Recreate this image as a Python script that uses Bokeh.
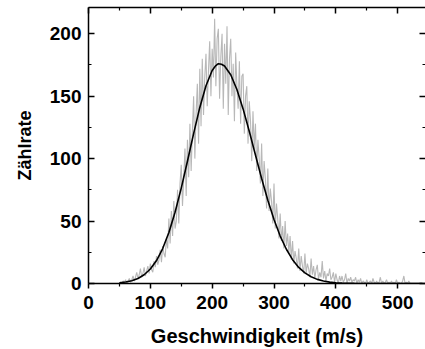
from bokeh.plotting import figure
from bokeh.models import Range1d, LinearAxis, FixedTicker
from bokeh.embed import file_html
from bokeh.resources import INLINE

# measured count rate (grey, 2 m/s bins from 50 to 520 m/s)
speed_data = list(range(50, 521, 2))
counts = [
    0, 1, 0, 2, 1, 3, 0, 2, 4, 1,
    3, 6, 2, 5, 9, 4, 7, 12, 5, 8,
    13, 6, 10, 14, 8, 16, 11, 9, 18, 13,
    22, 15, 19, 27, 17, 30, 24, 21, 36, 28,
    52, 32, 58, 38, 66, 44, 50, 75, 48, 80,
    95, 62, 84, 108, 70, 115, 85, 128, 90, 122,
    150, 100, 136, 160, 112, 172, 126, 180, 135, 165,
    184, 142, 170, 194, 150, 188, 165, 212, 158, 196,
    204, 148, 182, 200, 140, 192, 160, 206, 135, 180,
    196, 150, 176, 130, 185, 158, 140, 178, 128, 166,
    168, 120, 150, 158, 112, 146, 130, 98, 138, 108,
    128, 90, 115, 100, 80, 112, 70, 98, 84, 60,
    92, 58, 76, 66, 48, 80, 44, 64, 52, 36,
    56, 34, 46, 28, 50, 30, 40, 24, 38, 19,
    34, 16, 26, 20, 12, 28, 10, 22, 14, 8,
    24, 8, 16, 12, 5, 20, 7, 14, 4, 11,
    15, 3, 9, 5, 18, 4, 10, 2, 8, 6,
    12, 3, 5, 9, 1, 8, 3, 0, 6, 2,
    6, 1, 3, 8, 0, 4, 2, 5, 1, 3,
    2, 5, 0, 3, 1, 4, 0, 2, 1, 0,
    3, 0, 1, 2, 0, 4, 1, 0, 2, 0,
    1, 5, 0, 2, 0, 1, 3, 0, 1, 0,
    2, 0, 1, 0, 3, 0, 1, 0, 0, 2,
    6, 0, 1, 0, 2, 0,
]

# fitted distribution (black)
speed_fit = [50, 60, 70, 80, 90, 100, 110, 120, 130, 140,
             150, 160, 170, 180, 190, 200, 205, 210, 215, 220,
             230, 240, 250, 260, 270, 280, 290, 300, 310, 320,
             330, 340, 350, 360, 370, 380, 390, 400, 410, 420,
             430, 450, 500, 540]
fit = [0.6, 1.2, 2.2, 4.0, 7.0, 11.6, 18.4, 28.0, 40.9, 57.1,
       76.4, 97.9, 120.0, 141.0, 158.4, 170.6, 174.0, 176.0, 175.6, 174.2,
       167.1, 155.3, 139.8, 121.9, 102.9, 84.1, 66.6, 51.2, 38.0, 27.4,
       19.1, 12.9, 8.5, 5.4, 3.3, 2.0, 1.1, 0.6, 0.3, 0.2,
       0.1, 0.0, 0.0, 0.0]

x_ticks = [0, 100, 200, 300, 400, 500]
x_minor = [50, 150, 250, 350, 450]
y_ticks = [0, 50, 100, 150, 200]
y_minor = [25, 75, 125, 175]

FONT = "Liberation Sans"

p = figure(width=425, height=349, output_backend="svg", toolbar_location=None,
           x_range=Range1d(0, 545), y_range=Range1d(0, 221),
           min_border_left=88, min_border_right=0, min_border_top=7,
           min_border_bottom=66)
p.background_fill_color = "white"
p.border_fill_color = "white"
p.outline_line_color = None
p.xgrid.visible = False
p.ygrid.visible = False

p.line(speed_data, counts, line_color="#b8b8b8", line_width=1.1)
p.line(speed_fit, fit, line_color="black", line_width=1.6)

xa = p.xaxis[0]
xa.ticker = FixedTicker(ticks=x_ticks, minor_ticks=x_minor)
xa.axis_label = "Geschwindigkeit (m/s)"
xa.major_tick_in = 0
xa.major_tick_out = 5
xa.minor_tick_in = 0
xa.minor_tick_out = 3
xa.major_label_standoff = 7
xa.axis_label_standoff = 13

ya = p.yaxis[0]
ya.ticker = FixedTicker(ticks=y_ticks, minor_ticks=y_minor)
ya.axis_label = "Zählrate"
ya.major_tick_in = 6
ya.major_tick_out = 0
ya.minor_tick_in = 3
ya.minor_tick_out = 0
ya.major_label_standoff = 7
ya.axis_label_standoff = 12

for ax in (xa, ya):
    ax.axis_line_color = "black"
    ax.axis_line_width = 1.5
    ax.major_tick_line_color = "black"
    ax.major_tick_line_width = 1.5
    ax.minor_tick_line_color = "black"
    ax.minor_tick_line_width = 1.2
    ax.major_label_text_font = FONT
    ax.major_label_text_font_style = "bold"
    ax.major_label_text_font_size = "19px"
    ax.major_label_text_color = "black"
    ax.axis_label_text_font = FONT
    ax.axis_label_text_font_style = "bold"
    ax.axis_label_text_color = "black"
xa.axis_label_text_font_size = "20px"
ya.axis_label_text_font_size = "18px"


def tick_axis(ticks, length, line):
    # an axis that only draws inward tick marks (no labels)
    ax = LinearAxis(ticker=FixedTicker(ticks=[], minor_ticks=ticks))
    ax.major_tick_in = 0
    ax.major_tick_out = 0
    ax.minor_tick_in = length
    ax.minor_tick_out = 0
    ax.major_label_standoff = 0
    ax.axis_label_standoff = 0
    ax.axis_line_color = "black" if line else None
    ax.axis_line_width = 1.5
    ax.minor_tick_line_color = "black"
    ax.minor_tick_line_width = 1.5 if length > 4 else 1.2
    return ax


p.add_layout(tick_axis(x_ticks, 6, True), "above")
p.add_layout(tick_axis(x_minor, 3, False), "above")
p.add_layout(tick_axis(y_ticks, 6, False), "right")
p.add_layout(tick_axis(y_minor, 3, False), "right")

open("out.html", "w").write(file_html(p, INLINE))
